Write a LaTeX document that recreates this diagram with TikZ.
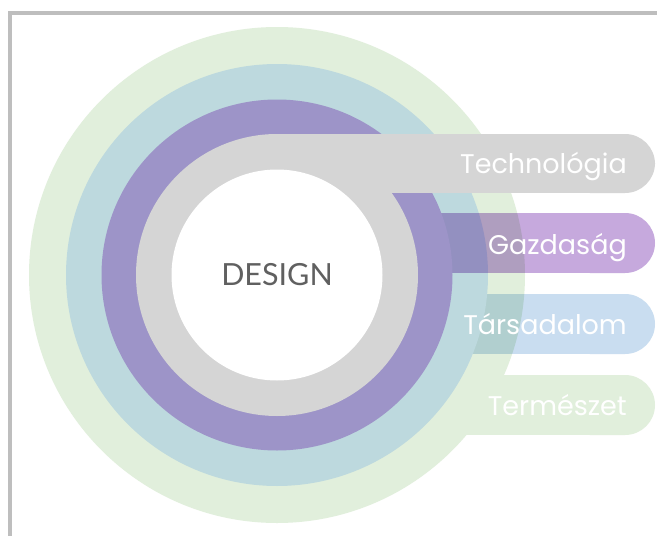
\documentclass[tikz,border=0pt]{standalone}
\usepackage{fontspec}
\setmainfont{Poppins}
\newfontfamily\designfont{Lato}
\definecolor{ringgreen}{HTML}{E1EFDC}
\definecolor{ringblue}{HTML}{BDD9DE}
\definecolor{ringpurple}{HTML}{9D94C8}
\definecolor{ringgray}{HTML}{D5D5D5}
\definecolor{barlilac}{HTML}{C6A9DD}
\definecolor{barblue}{HTML}{C9DDF0}
\definecolor{lilacgreen}{HTML}{AF9EBF}
\definecolor{lilacblue}{HTML}{9390C0}
\definecolor{bluegreen}{HTML}{B1CFCF}
\definecolor{framegray}{HTML}{BEBEBE}
\definecolor{designgray}{HTML}{606060}
\tikzset{
  labeltext/.style={anchor=base east, inner sep=0pt, text=white, font=\fontsize{27}{30}\selectfont},
  barshape/.style={rounded corners=30pt}
}
\begin{document}
\begin{tikzpicture}[x=1pt,y=-1pt]
\useasboundingbox (0,0) rectangle (657,536);
\fill[white] (0,0) rectangle (657,536);
% frame (top and left)
\draw[framegray, line width=3.5pt, line join=miter] (10,536) -- (10,12.8) -- (657,12.8);
% outer green ring + Termeszet bar
\fill[ringgreen] (277,275) circle (248);
\fill[ringgreen] (277,375) rectangle (600,435);
\fill[ringgreen, barshape] (560,375) rectangle (655,435);
% Tarsadalom bar
\fill[barblue] (277,294) rectangle (600,354);
\fill[barblue, barshape] (560,294) rectangle (655,354);
\begin{scope}
  \clip (277,275) circle (248);
  \fill[bluegreen] (277,294) rectangle (655,354);
\end{scope}
% blue ring
\fill[ringblue] (277,275) circle (211);
% Gazdasag bar
\fill[barlilac] (277,213) rectangle (600,273);
\fill[barlilac, barshape] (560,213) rectangle (655,273);
\begin{scope}
  \clip (277,275) circle (248);
  \fill[lilacgreen] (277,213) rectangle (655,273);
\end{scope}
\begin{scope}
  \clip (277,275) circle (211);
  \fill[lilacblue] (277,213) rectangle (655,273);
\end{scope}
% purple ring
\fill[ringpurple] (277,275) circle (175.5);
% gray ring + Technologia bar
\fill[ringgray] (277,134) rectangle (600,193);
\fill[ringgray, barshape] (560,134) rectangle (655,193);
\fill[ringgray] (277,275) circle (141);
% white core
\fill[white] (277,275) circle (105.5);
% labels
\node[anchor=base, inner sep=0pt, text=designgray, font=\designfont\fontsize{30.5}{33}\selectfont] (design) at (277,285) {DESIGN};
\node[labeltext] (tech) at (627,173) {Technológia};
\node[labeltext] (gazd) at (627,254) {Gazdaság};
\node[labeltext] (tars) at (627,334) {Társadalom};
\node[labeltext] (term) at (627,415) {Természet};
\end{tikzpicture}
\end{document}
